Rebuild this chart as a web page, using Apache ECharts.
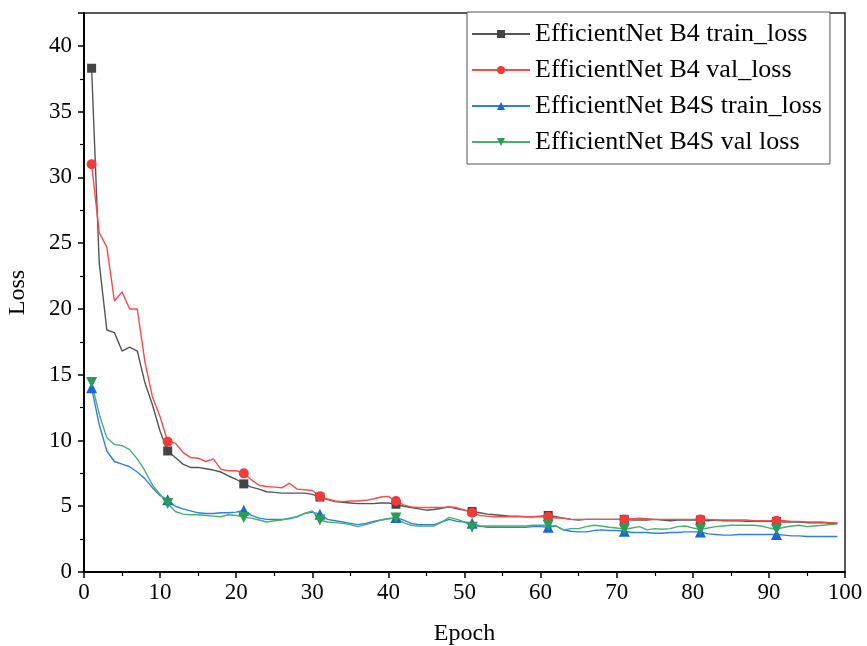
<meta charset="UTF-8">
<style>html, body { margin: 0; padding: 0; background: #fff; }</style>
<div id="main" style="width:867px;height:646px;"></div>
<script src="https://cdn.jsdelivr.net/npm/echarts@6.0.0/dist/echarts.min.js"></script>
<script type="text/javascript">
// epochs 1..99, markers every 10 epochs starting from 1
var epochs = [];
for (var e = 1; e <= 99; e++) { epochs.push(e); }

var b4Train = [38.3, 23.5, 18.4, 18.2, 16.8, 17.1, 16.8, 14.4, 12.7, 10.7,
    9.2, 8.7, 8.2, 7.95, 7.95, 7.85, 7.75, 7.6, 7.3, 7.05,
    6.7, 6.45, 6.3, 6.1, 6.05, 6.0, 6.0, 6.0, 6.0, 5.9,
    5.7, 5.5, 5.35, 5.3, 5.25, 5.2, 5.2, 5.2, 5.25, 5.25,
    5.15, 5.0, 4.9, 4.8, 4.7, 4.75, 4.85, 4.95, 4.8, 4.7,
    4.6, 4.5, 4.4, 4.35, 4.3, 4.25, 4.25, 4.2, 4.2, 4.25,
    4.3, 4.2, 4.1, 4.0, 3.95, 4.0, 4.0, 4.0, 4.0, 4.0,
    4.0, 3.95, 3.95, 3.95, 4.0, 3.95, 3.9, 3.95, 3.95, 3.95,
    3.95, 3.9, 3.95, 3.9, 3.9, 3.9, 3.85, 3.85, 3.85, 3.85,
    3.85, 3.8, 3.8, 3.8, 3.75, 3.75, 3.75, 3.7, 3.7];

var b4Val = [31.0, 25.8, 24.7, 20.6, 21.3, 20.0, 20.0, 16.0, 13.3, 11.8,
    9.9, 9.8, 9.1, 8.7, 8.65, 8.4, 8.6, 7.8, 7.7, 7.7,
    7.5, 7.0, 6.6, 6.5, 6.45, 6.4, 6.75, 6.3, 6.25, 6.2,
    5.75, 5.55, 5.4, 5.35, 5.4, 5.4, 5.45, 5.55, 5.7, 5.75,
    5.4, 5.1, 4.95, 4.9, 4.9, 4.9, 4.9, 4.95, 4.9, 4.7,
    4.5, 4.3, 4.25, 4.2, 4.2, 4.2, 4.2, 4.2, 4.2, 4.2,
    4.2, 4.1, 4.1, 4.0, 4.0, 4.0, 4.0, 4.0, 4.0, 4.0,
    4.0, 4.05, 4.1, 4.05, 4.0, 4.0, 4.0, 4.0, 4.0, 4.0,
    4.0, 4.0, 3.95, 3.95, 3.95, 3.95, 3.95, 3.9, 3.9, 3.9,
    3.9, 3.9, 3.85, 3.85, 3.8, 3.8, 3.8, 3.75, 3.75];

var b4sTrain = [14.0, 11.2, 9.2, 8.4, 8.2, 8.0, 7.6, 7.1, 6.4, 5.8,
    5.5, 5.0, 4.8, 4.65, 4.5, 4.45, 4.45, 4.5, 4.5, 4.55,
    4.7, 4.3, 4.1, 4.0, 4.0, 4.0, 4.05, 4.2, 4.45, 4.55,
    4.4, 4.0, 3.9, 3.8, 3.7, 3.6, 3.7, 3.85, 3.95, 4.05,
    4.15, 3.95, 3.7, 3.6, 3.6, 3.6, 3.8, 4.0, 3.85, 3.8,
    3.7, 3.5, 3.4, 3.4, 3.4, 3.4, 3.4, 3.4, 3.45, 3.45,
    3.4, 3.5, 3.2, 3.1, 3.05, 3.05, 3.15, 3.2, 3.15, 3.15,
    3.1, 3.0, 3.0, 3.0, 2.95, 2.95, 3.0, 3.0, 3.05, 3.05,
    3.05, 2.9, 2.85, 2.8, 2.8, 2.85, 2.85, 2.85, 2.85, 2.85,
    2.85, 2.8, 2.75, 2.75, 2.7, 2.7, 2.7, 2.7, 2.7];

var b4sVal = [14.4, 12.0, 10.2, 9.7, 9.6, 9.3, 8.6, 7.7, 6.6, 5.9,
    5.2, 4.6, 4.4, 4.35, 4.35, 4.3, 4.25, 4.2, 4.35, 4.3,
    4.15, 4.1, 3.95, 3.8, 3.9, 3.95, 4.1, 4.2, 4.45, 4.65,
    3.95, 3.8, 3.75, 3.7, 3.6, 3.45, 3.6, 3.75, 3.95, 4.05,
    4.1, 3.75, 3.55, 3.5, 3.5, 3.5, 3.8, 4.15, 4.0, 3.8,
    3.4, 3.5, 3.5, 3.5, 3.5, 3.5, 3.5, 3.5, 3.55, 3.55,
    3.55, 3.5, 3.2, 3.3, 3.3, 3.45, 3.55, 3.5, 3.4, 3.35,
    3.25, 3.35, 3.45, 3.2, 3.3, 3.25, 3.3, 3.45, 3.5, 3.35,
    3.25, 3.35, 3.45, 3.5, 3.55, 3.55, 3.55, 3.55, 3.5, 3.35,
    3.25, 3.4, 3.5, 3.55, 3.45, 3.5, 3.55, 3.6, 3.65];

var seriesNames = ['EfficientNet B4 train_loss', 'EfficientNet B4 val_loss',
    'EfficientNet B4S train_loss', 'EfficientNet B4S val loss'];

var FONT = 'Liberation Serif';

// only every 10th epoch (1, 11, 21 ...) gets a marker
var buildData = function (vals) {
    var out = [];
    for (var i = 0; i < vals.length; i++) {
        var item = { value: [epochs[i], vals[i]] };
        if ((epochs[i] - 1) % 10 != 0) {
            item.symbol = 'none';
        }
        out.push(item);
    }
    return out;
};

var mkSeries = function (name, vals, lineColor, markColor, symbol, size, rotate) {
    return {
        name: name,
        type: 'line',
        data: buildData(vals),
        symbol: symbol,
        symbolSize: size,
        symbolRotate: rotate || 0,
        showAllSymbol: true,
        lineStyle: { color: lineColor, width: 1.4 },
        itemStyle: { color: markColor, borderWidth: 0 },
        animation: false
    };
};

var chart = echarts.init(document.getElementById('main'));
var option = {
    backgroundColor: '#fff',
    animation: false,
    grid: {
        left: 84, right: 22, top: 13, bottom: 74,
        outerBoundsMode: 'none',
        containLabel: false,
        show: true, borderColor: '#222', borderWidth: 1.5
    },
    legend: {
        orient: 'vertical',
        left: 467, top: 12,
        padding: [9, 8, 9, 4],
        itemGap: 10,
        itemWidth: 58,
        itemHeight: 10,
        borderColor: '#555',
        borderWidth: 1,
        backgroundColor: '#fff',
        data: seriesNames,
        textStyle: { fontFamily: FONT, fontSize: 26, color: '#000' }
    },
    xAxis: {
        type: 'value',
        min: 0, max: 100, interval: 10,
        name: 'Epoch',
        nameLocation: 'middle',
        nameGap: 50,
        nameTextStyle: { fontFamily: FONT, fontSize: 24, color: '#000' },
        axisLine: { show: true, lineStyle: { color: '#000', width: 2 } },
        axisTick: { show: true, inside: false, length: 6, lineStyle: { color: '#000', width: 1.5 } },
        minorTick: { show: true, splitNumber: 2, length: 4, lineStyle: { color: '#000', width: 1.2 } },
        axisLabel: { fontFamily: FONT, fontSize: 23, color: '#000', margin: 9 },
        splitLine: { show: false }
    },
    yAxis: {
        type: 'value',
        min: 0, max: 42.5, interval: 5,
        name: 'Loss',
        nameLocation: 'middle',
        nameGap: 54,
        nameTextStyle: { fontFamily: FONT, fontSize: 24, color: '#000' },
        axisLine: { show: true, lineStyle: { color: '#000', width: 2 } },
        axisTick: { show: true, inside: false, length: 6, lineStyle: { color: '#000', width: 1.5 } },
        minorTick: { show: true, splitNumber: 2, length: 4, lineStyle: { color: '#000', width: 1.2 } },
        axisLabel: {
            fontFamily: FONT, fontSize: 23, color: '#000', margin: 12,
            formatter: function (v) { return v > 40 ? '' : v; }
        },
        splitLine: { show: false }
    },
    series: [
        mkSeries(seriesNames[0], b4Train, '#555555', '#444444', 'rect', 9),
        mkSeries(seriesNames[1], b4Val, '#ff4a4a', '#f23a3a', 'circle', 10),
        mkSeries(seriesNames[2], b4sTrain, '#2f7fe6', '#1a66d9', 'triangle', 11),
        mkSeries(seriesNames[3], b4sVal, '#45b36b', '#2a9d55', 'triangle', 11, 180)
    ]
};
chart.setOption(option);
</script>
